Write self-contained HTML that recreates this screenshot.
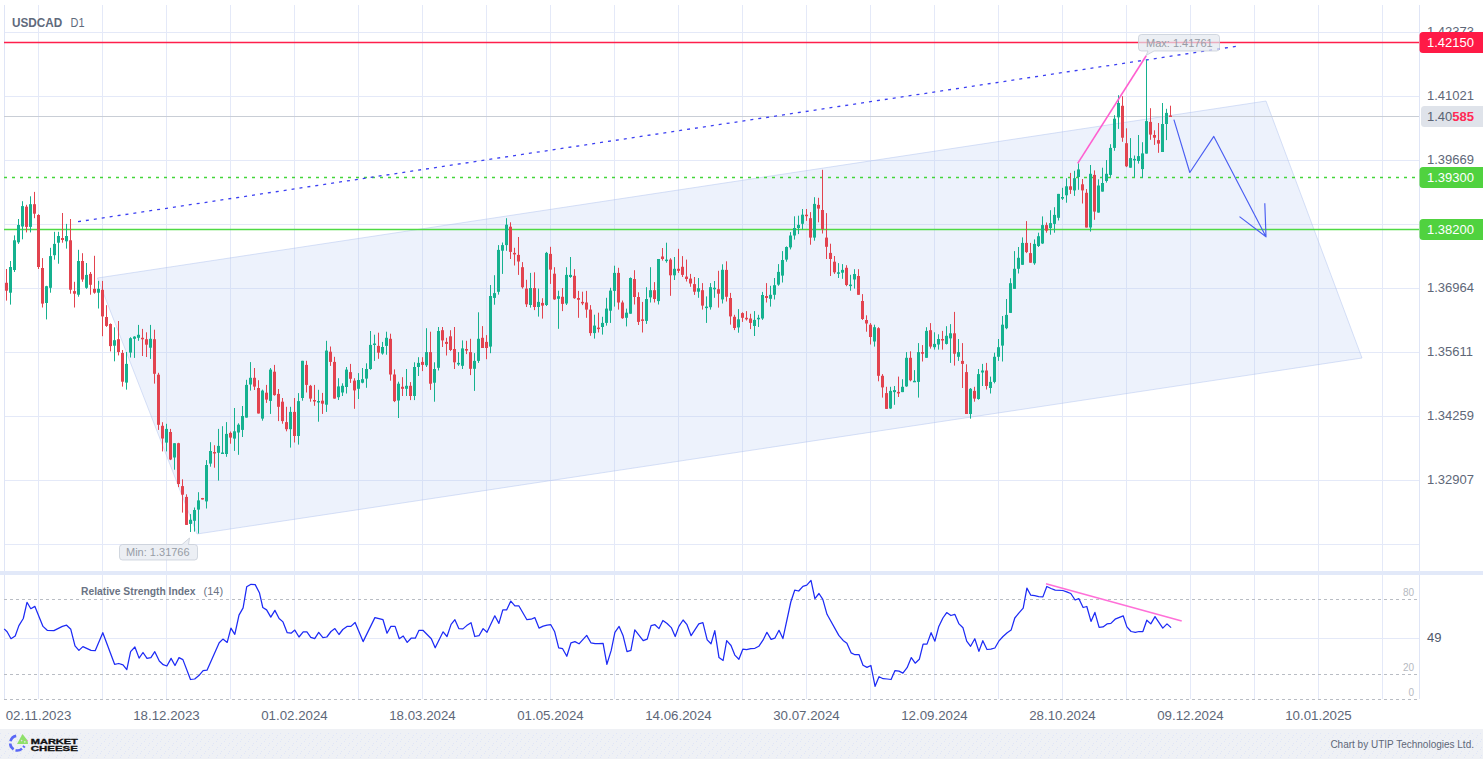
<!DOCTYPE html><html><head><meta charset="utf-8"><style>svg text{font-family:"Liberation Sans",sans-serif}html,body{margin:0;padding:0;background:#fff;width:1483px;height:759px;overflow:hidden}</style></head><body><svg width="1483" height="759" viewBox="0 0 1483 759" style="display:block">
<defs><pattern id="dots" x="0" y="733" width="8" height="8" patternUnits="userSpaceOnUse"><rect x="0" y="0" width="1" height="1" fill="#dde4f7"/><rect x="4" y="4" width="1" height="1" fill="#dde4f7"/><rect x="1" y="6" width="1" height="1" fill="#dde4f7"/><rect x="5" y="2" width="1" height="1" fill="#dde4f7"/></pattern></defs>
<rect x="0" y="729" width="1483" height="30" fill="#eff1f5"/>
<rect x="0" y="733" width="1483" height="26" fill="url(#dots)" opacity="0.9"/>
<path d="M38.5 5V571 M38.5 575V699 M102.5 5V571 M102.5 575V699 M166.5 5V571 M166.5 575V699 M230.5 5V571 M230.5 575V699 M294.5 5V571 M294.5 575V699 M358.5 5V571 M358.5 575V699 M422.5 5V571 M422.5 575V699 M486.5 5V571 M486.5 575V699 M550.5 5V571 M550.5 575V699 M614.5 5V571 M614.5 575V699 M678.5 5V571 M678.5 575V699 M742.5 5V571 M742.5 575V699 M806.5 5V571 M806.5 575V699 M870.5 5V571 M870.5 575V699 M934.5 5V571 M934.5 575V699 M998.5 5V571 M998.5 575V699 M1062.5 5V571 M1062.5 575V699 M1126.5 5V571 M1126.5 575V699 M1190.5 5V571 M1190.5 575V699 M1254.5 5V571 M1254.5 575V699 M1318.5 5V571 M1318.5 575V699 M1382.5 5V571 M1382.5 575V699 M4 32.5H1419 M4 96.5H1419 M4 160.5H1419 M4 224.5H1419 M4 288.5H1419 M4 352.5H1419 M4 416.5H1419 M4 480.5H1419 M4 544.5H1419 M4 638.5H1419" stroke="#e4e9f8" stroke-width="1" fill="none"/>
<path d="M4.5 5V571M4.5 575V699M1419.5 5V571M1419.5 575V699" stroke="#dfe5f6" stroke-width="1" fill="none"/>
<rect x="0" y="571" width="1483" height="4" fill="#e2e9f9"/>
<path d="M4 599.5H1418M4 674.5H1418M4 699.5H1418" stroke="#b9bdc4" stroke-width="1" stroke-dasharray="3 3" fill="none"/>
<polygon points="97.5,278 1266,101 1362,358 197,534" fill="rgba(175,196,240,0.22)" stroke="rgba(170,190,238,0.45)" stroke-width="1"/>
<path d="M4 116.5H1419" stroke="#c9ced6" stroke-width="1"/>
<path d="M4 42.5H1419" stroke="#ff1f4b" stroke-width="1.4"/>
<path d="M4 177.5H1419" stroke="#44d53a" stroke-width="1.3" stroke-dasharray="3 5"/>
<path d="M4 229.5H1419" stroke="#4fd944" stroke-width="1.3"/>
<path d="M78 221.7L1236.2 46.3" stroke="#3b3ff2" stroke-width="1.3" stroke-dasharray="3 5"/>
<g fill="#e2434f"><rect x="6" y="269.0" width="1" height="31.6"/><rect x="5" y="282.8" width="3" height="7.9"/><rect x="26" y="204.8" width="1" height="27.6"/><rect x="25" y="206.7" width="3" height="20.2"/><rect x="34" y="191.9" width="1" height="26.3"/><rect x="33" y="204.2" width="3" height="9.5"/><rect x="38" y="214.2" width="1" height="54.8"/><rect x="37" y="215.0" width="3" height="52.0"/><rect x="42" y="258.1" width="1" height="49.4"/><rect x="41" y="268.0" width="3" height="35.6"/><rect x="62" y="213.0" width="1" height="29.7"/><rect x="61" y="238.0" width="3" height="2.0"/><rect x="70" y="219.0" width="1" height="74.7"/><rect x="69" y="240.3" width="3" height="49.4"/><rect x="74" y="281.8" width="1" height="25.7"/><rect x="73" y="291.1" width="3" height="2.6"/><rect x="82" y="253.2" width="1" height="28.6"/><rect x="81" y="261.0" width="3" height="18.5"/><rect x="90" y="272.0" width="1" height="22.7"/><rect x="89" y="273.9" width="3" height="10.9"/><rect x="94" y="255.8" width="1" height="37.9"/><rect x="93" y="288.8" width="3" height="3.9"/><rect x="102" y="280.9" width="1" height="55.3"/><rect x="101" y="289.8" width="3" height="26.6"/><rect x="106" y="305.2" width="1" height="21.7"/><rect x="105" y="317.0" width="3" height="8.9"/><rect x="110" y="323.4" width="1" height="28.0"/><rect x="109" y="324.0" width="3" height="22.1"/><rect x="118" y="321.0" width="1" height="34.4"/><rect x="117" y="339.2" width="3" height="12.8"/><rect x="122" y="350.0" width="1" height="36.6"/><rect x="121" y="353.0" width="3" height="28.7"/><rect x="142" y="328.9" width="1" height="27.1"/><rect x="141" y="337.8" width="3" height="1.5"/><rect x="146" y="332.3" width="1" height="24.7"/><rect x="145" y="339.2" width="3" height="5.5"/><rect x="154" y="329.7" width="1" height="53.9"/><rect x="153" y="339.2" width="3" height="34.6"/><rect x="158" y="372.8" width="1" height="57.1"/><rect x="157" y="374.7" width="3" height="50.1"/><rect x="162" y="422.2" width="1" height="29.2"/><rect x="161" y="425.8" width="3" height="12.7"/><rect x="170" y="428.9" width="1" height="31.2"/><rect x="169" y="432.0" width="3" height="27.5"/><rect x="178" y="442.8" width="1" height="44.3"/><rect x="177" y="443.2" width="3" height="40.8"/><rect x="182" y="479.3" width="1" height="33.3"/><rect x="181" y="486.1" width="3" height="8.6"/><rect x="186" y="494.3" width="1" height="30.6"/><rect x="185" y="496.9" width="3" height="28.0"/><rect x="202" y="497.9" width="1" height="1.6"/><rect x="201" y="498.0" width="3" height="1.5"/><rect x="214" y="445.2" width="1" height="22.5"/><rect x="213" y="452.0" width="3" height="1.5"/><rect x="230" y="431.5" width="1" height="12.2"/><rect x="229" y="432.9" width="3" height="4.7"/><rect x="254" y="368.0" width="1" height="22.0"/><rect x="253" y="377.8" width="3" height="8.8"/><rect x="258" y="380.2" width="1" height="33.3"/><rect x="257" y="388.0" width="3" height="25.5"/><rect x="266" y="384.9" width="1" height="18.0"/><rect x="265" y="392.7" width="3" height="6.9"/><rect x="274" y="364.9" width="1" height="30.8"/><rect x="273" y="371.7" width="3" height="23.4"/><rect x="278" y="389.0" width="1" height="32.1"/><rect x="277" y="393.9" width="3" height="12.9"/><rect x="282" y="398.0" width="1" height="25.7"/><rect x="281" y="401.7" width="3" height="19.4"/><rect x="286" y="406.8" width="1" height="24.5"/><rect x="285" y="422.1" width="3" height="7.1"/><rect x="294" y="398.0" width="1" height="44.5"/><rect x="293" y="411.9" width="3" height="24.1"/><rect x="306" y="360.8" width="1" height="31.7"/><rect x="305" y="364.9" width="3" height="20.0"/><rect x="310" y="384.9" width="1" height="16.8"/><rect x="309" y="385.8" width="3" height="12.8"/><rect x="314" y="384.9" width="1" height="20.9"/><rect x="313" y="400.0" width="3" height="1.5"/><rect x="322" y="392.9" width="1" height="21.0"/><rect x="321" y="400.7" width="3" height="3.0"/><rect x="330" y="346.5" width="1" height="19.4"/><rect x="329" y="351.7" width="3" height="10.2"/><rect x="334" y="356.8" width="1" height="41.8"/><rect x="333" y="361.9" width="3" height="36.7"/><rect x="350" y="363.9" width="1" height="19.0"/><rect x="349" y="372.1" width="3" height="6.7"/><rect x="354" y="378.2" width="1" height="30.6"/><rect x="353" y="380.6" width="3" height="9.8"/><rect x="378" y="332.7" width="1" height="26.1"/><rect x="377" y="345.9" width="3" height="6.8"/><rect x="390" y="333.7" width="1" height="47.0"/><rect x="389" y="338.8" width="3" height="35.7"/><rect x="394" y="369.4" width="1" height="32.7"/><rect x="393" y="374.5" width="3" height="26.6"/><rect x="402" y="377.2" width="1" height="18.8"/><rect x="401" y="386.8" width="3" height="2.0"/><rect x="410" y="382.1" width="1" height="18.0"/><rect x="409" y="385.8" width="3" height="10.2"/><rect x="422" y="357.2" width="1" height="13.9"/><rect x="421" y="361.9" width="3" height="3.0"/><rect x="430" y="331.7" width="1" height="58.2"/><rect x="429" y="352.1" width="3" height="31.6"/><rect x="442" y="327.0" width="1" height="20.0"/><rect x="441" y="330.2" width="3" height="10.2"/><rect x="446" y="337.8" width="1" height="17.7"/><rect x="445" y="341.9" width="3" height="2.0"/><rect x="450" y="330.2" width="1" height="20.9"/><rect x="449" y="336.3" width="3" height="13.7"/><rect x="454" y="327.0" width="1" height="42.0"/><rect x="453" y="349.0" width="3" height="13.3"/><rect x="466" y="340.8" width="1" height="13.3"/><rect x="465" y="349.0" width="3" height="1.6"/><rect x="470" y="338.8" width="1" height="36.3"/><rect x="469" y="352.1" width="3" height="16.7"/><rect x="482" y="326.1" width="1" height="21.9"/><rect x="481" y="337.8" width="3" height="10.2"/><rect x="486" y="335.1" width="1" height="24.1"/><rect x="485" y="341.9" width="3" height="6.1"/><rect x="510" y="222.3" width="1" height="36.7"/><rect x="509" y="226.7" width="3" height="25.2"/><rect x="514" y="247.8" width="1" height="17.7"/><rect x="513" y="252.9" width="3" height="1.5"/><rect x="518" y="237.0" width="1" height="37.9"/><rect x="517" y="254.9" width="3" height="6.6"/><rect x="522" y="262.1" width="1" height="26.5"/><rect x="521" y="267.2" width="3" height="20.0"/><rect x="526" y="279.8" width="1" height="27.2"/><rect x="525" y="288.6" width="3" height="15.7"/><rect x="534" y="272.3" width="1" height="37.8"/><rect x="533" y="288.0" width="3" height="19.0"/><rect x="542" y="298.2" width="1" height="20.4"/><rect x="541" y="302.9" width="3" height="2.7"/><rect x="550" y="246.8" width="1" height="37.1"/><rect x="549" y="253.9" width="3" height="15.7"/><rect x="554" y="267.2" width="1" height="32.6"/><rect x="553" y="273.7" width="3" height="25.7"/><rect x="562" y="288.0" width="1" height="23.1"/><rect x="561" y="296.8" width="3" height="7.1"/><rect x="574" y="269.2" width="1" height="29.6"/><rect x="573" y="275.8" width="3" height="22.4"/><rect x="578" y="290.9" width="1" height="26.9"/><rect x="577" y="298.0" width="3" height="1.8"/><rect x="582" y="291.7" width="1" height="13.4"/><rect x="581" y="301.9" width="3" height="1.5"/><rect x="586" y="290.9" width="1" height="26.9"/><rect x="585" y="302.5" width="3" height="7.1"/><rect x="590" y="305.1" width="1" height="30.7"/><rect x="589" y="309.6" width="3" height="23.5"/><rect x="598" y="312.7" width="1" height="19.8"/><rect x="597" y="327.6" width="3" height="1.5"/><rect x="618" y="267.8" width="1" height="41.8"/><rect x="617" y="272.9" width="3" height="29.6"/><rect x="622" y="300.5" width="1" height="18.3"/><rect x="621" y="302.5" width="3" height="15.7"/><rect x="634" y="270.2" width="1" height="34.3"/><rect x="633" y="279.0" width="3" height="18.0"/><rect x="638" y="292.3" width="1" height="32.7"/><rect x="637" y="297.0" width="3" height="24.9"/><rect x="642" y="301.9" width="1" height="30.6"/><rect x="641" y="319.4" width="3" height="1.5"/><rect x="654" y="282.1" width="1" height="20.4"/><rect x="653" y="290.2" width="3" height="8.8"/><rect x="662" y="248.0" width="1" height="12.6"/><rect x="661" y="256.5" width="3" height="2.5"/><rect x="670" y="258.2" width="1" height="37.6"/><rect x="669" y="259.6" width="3" height="15.7"/><rect x="678" y="248.8" width="1" height="24.1"/><rect x="677" y="268.8" width="3" height="2.0"/><rect x="682" y="256.1" width="1" height="20.9"/><rect x="681" y="266.8" width="3" height="8.1"/><rect x="686" y="259.6" width="1" height="21.9"/><rect x="685" y="276.6" width="3" height="2.4"/><rect x="690" y="273.9" width="1" height="12.9"/><rect x="689" y="278.6" width="3" height="4.9"/><rect x="694" y="277.0" width="1" height="17.9"/><rect x="693" y="284.1" width="3" height="7.6"/><rect x="702" y="283.1" width="1" height="26.5"/><rect x="701" y="290.2" width="3" height="15.4"/><rect x="718" y="270.8" width="1" height="36.8"/><rect x="717" y="289.2" width="3" height="4.5"/><rect x="726" y="261.3" width="1" height="40.2"/><rect x="725" y="269.9" width="3" height="26.9"/><rect x="730" y="292.9" width="1" height="31.7"/><rect x="729" y="298.0" width="3" height="18.4"/><rect x="734" y="314.8" width="1" height="15.3"/><rect x="733" y="316.8" width="3" height="11.2"/><rect x="742" y="312.3" width="1" height="9.6"/><rect x="741" y="313.1" width="3" height="4.7"/><rect x="746" y="311.1" width="1" height="9.4"/><rect x="745" y="317.8" width="3" height="1.5"/><rect x="750" y="313.8" width="1" height="15.3"/><rect x="749" y="318.5" width="3" height="4.4"/><rect x="766" y="283.1" width="1" height="19.4"/><rect x="765" y="296.0" width="3" height="2.0"/><rect x="806" y="209.0" width="1" height="11.9"/><rect x="805" y="214.7" width="3" height="1.5"/><rect x="810" y="212.1" width="1" height="32.6"/><rect x="809" y="218.2" width="3" height="19.4"/><rect x="818" y="197.8" width="1" height="24.5"/><rect x="817" y="204.9" width="3" height="3.7"/><rect x="822" y="169.8" width="1" height="63.7"/><rect x="821" y="210.0" width="3" height="19.0"/><rect x="826" y="213.1" width="1" height="45.9"/><rect x="825" y="237.6" width="3" height="9.2"/><rect x="830" y="243.7" width="1" height="32.3"/><rect x="829" y="252.9" width="3" height="6.1"/><rect x="834" y="256.0" width="1" height="17.9"/><rect x="833" y="261.7" width="3" height="10.6"/><rect x="846" y="265.2" width="1" height="21.0"/><rect x="845" y="267.8" width="3" height="17.2"/><rect x="858" y="269.2" width="1" height="25.6"/><rect x="857" y="276.0" width="3" height="18.8"/><rect x="862" y="294.1" width="1" height="25.9"/><rect x="861" y="301.0" width="3" height="18.0"/><rect x="866" y="315.3" width="1" height="16.4"/><rect x="865" y="320.0" width="3" height="3.5"/><rect x="870" y="323.1" width="1" height="21.4"/><rect x="869" y="324.7" width="3" height="12.3"/><rect x="878" y="327.2" width="1" height="54.1"/><rect x="877" y="328.2" width="3" height="47.6"/><rect x="882" y="374.1" width="1" height="23.5"/><rect x="881" y="375.8" width="3" height="11.6"/><rect x="886" y="386.8" width="1" height="22.1"/><rect x="885" y="393.1" width="3" height="15.8"/><rect x="898" y="376.6" width="1" height="20.4"/><rect x="897" y="391.9" width="3" height="1.5"/><rect x="910" y="351.3" width="1" height="30.0"/><rect x="909" y="357.8" width="3" height="22.5"/><rect x="922" y="345.1" width="1" height="16.4"/><rect x="921" y="352.1" width="3" height="1.6"/><rect x="930" y="323.1" width="1" height="25.5"/><rect x="929" y="330.2" width="3" height="16.4"/><rect x="942" y="330.9" width="1" height="18.7"/><rect x="941" y="339.0" width="3" height="1.5"/><rect x="954" y="311.9" width="1" height="53.7"/><rect x="953" y="333.3" width="3" height="20.4"/><rect x="962" y="343.1" width="1" height="44.9"/><rect x="961" y="360.9" width="3" height="3.0"/><rect x="966" y="364.3" width="1" height="49.7"/><rect x="965" y="372.1" width="3" height="41.9"/><rect x="974" y="386.8" width="1" height="14.9"/><rect x="973" y="390.9" width="3" height="7.7"/><rect x="986" y="362.9" width="1" height="26.6"/><rect x="985" y="370.5" width="3" height="15.5"/><rect x="1026" y="221.1" width="1" height="32.0"/><rect x="1025" y="242.9" width="3" height="9.2"/><rect x="1030" y="242.9" width="1" height="19.8"/><rect x="1029" y="253.1" width="3" height="9.6"/><rect x="1046" y="222.5" width="1" height="10.2"/><rect x="1045" y="225.1" width="3" height="5.6"/><rect x="1070" y="172.9" width="1" height="21.0"/><rect x="1069" y="186.3" width="3" height="3.5"/><rect x="1082" y="179.0" width="1" height="24.5"/><rect x="1081" y="184.3" width="3" height="6.1"/><rect x="1086" y="189.1" width="1" height="38.4"/><rect x="1085" y="192.8" width="3" height="34.7"/><rect x="1094" y="170.4" width="1" height="49.4"/><rect x="1093" y="174.9" width="3" height="36.7"/><rect x="1122" y="96.2" width="1" height="45.6"/><rect x="1121" y="105.8" width="3" height="31.9"/><rect x="1126" y="128.3" width="1" height="38.8"/><rect x="1125" y="143.2" width="3" height="23.1"/><rect x="1150" y="108.2" width="1" height="31.6"/><rect x="1149" y="121.9" width="3" height="12.7"/><rect x="1154" y="130.3" width="1" height="14.6"/><rect x="1153" y="135.0" width="3" height="2.7"/><rect x="1158" y="123.0" width="1" height="29.8"/><rect x="1157" y="140.1" width="3" height="3.5"/><rect x="1170" y="105.7" width="1" height="11.3"/><rect x="1169" y="115.5" width="3" height="1.5"/></g><g fill="#15b18f"><rect x="10" y="261.0" width="1" height="43.6"/><rect x="9" y="267.0" width="3" height="25.7"/><rect x="14" y="235.4" width="1" height="36.6"/><rect x="13" y="240.3" width="3" height="29.7"/><rect x="18" y="219.0" width="1" height="24.9"/><rect x="17" y="225.0" width="3" height="17.3"/><rect x="22" y="201.2" width="1" height="38.1"/><rect x="21" y="206.1" width="3" height="20.4"/><rect x="30" y="196.3" width="1" height="36.1"/><rect x="29" y="204.2" width="3" height="22.7"/><rect x="46" y="285.8" width="1" height="33.6"/><rect x="45" y="286.2" width="3" height="16.8"/><rect x="50" y="247.8" width="1" height="44.9"/><rect x="49" y="256.1" width="3" height="31.7"/><rect x="54" y="231.8" width="1" height="27.9"/><rect x="53" y="243.9" width="3" height="11.3"/><rect x="58" y="231.8" width="1" height="31.9"/><rect x="57" y="236.0" width="3" height="6.7"/><rect x="66" y="223.9" width="1" height="24.7"/><rect x="65" y="236.0" width="3" height="5.3"/><rect x="78" y="249.8" width="1" height="46.9"/><rect x="77" y="261.0" width="3" height="33.7"/><rect x="86" y="263.0" width="1" height="25.8"/><rect x="85" y="274.9" width="3" height="12.9"/><rect x="98" y="280.9" width="1" height="27.6"/><rect x="97" y="288.8" width="3" height="3.9"/><rect x="114" y="327.3" width="1" height="34.0"/><rect x="113" y="340.2" width="3" height="5.5"/><rect x="126" y="352.0" width="1" height="37.6"/><rect x="125" y="363.9" width="3" height="18.7"/><rect x="130" y="337.2" width="1" height="20.3"/><rect x="129" y="338.2" width="3" height="14.4"/><rect x="134" y="336.2" width="1" height="21.7"/><rect x="133" y="336.6" width="3" height="2.2"/><rect x="138" y="324.9" width="1" height="15.9"/><rect x="137" y="334.8" width="3" height="3.0"/><rect x="150" y="324.9" width="1" height="34.0"/><rect x="149" y="338.8" width="3" height="8.9"/><rect x="166" y="423.8" width="1" height="27.6"/><rect x="165" y="428.9" width="3" height="13.7"/><rect x="174" y="443.2" width="1" height="26.5"/><rect x="173" y="443.2" width="3" height="14.3"/><rect x="190" y="514.1" width="1" height="17.9"/><rect x="189" y="519.8" width="3" height="4.1"/><rect x="194" y="507.5" width="1" height="24.1"/><rect x="193" y="510.0" width="3" height="10.8"/><rect x="198" y="492.2" width="1" height="41.3"/><rect x="197" y="500.4" width="3" height="9.2"/><rect x="206" y="460.1" width="1" height="48.4"/><rect x="205" y="465.0" width="3" height="36.4"/><rect x="210" y="442.2" width="1" height="24.5"/><rect x="209" y="451.0" width="3" height="12.6"/><rect x="218" y="428.9" width="1" height="51.7"/><rect x="217" y="445.9" width="3" height="6.9"/><rect x="222" y="426.2" width="1" height="27.8"/><rect x="221" y="452.5" width="3" height="1.5"/><rect x="226" y="422.1" width="1" height="34.7"/><rect x="225" y="433.9" width="3" height="20.1"/><rect x="234" y="408.0" width="1" height="42.9"/><rect x="233" y="431.3" width="3" height="7.3"/><rect x="238" y="423.3" width="1" height="31.5"/><rect x="237" y="424.7" width="3" height="7.8"/><rect x="242" y="406.0" width="1" height="31.0"/><rect x="241" y="416.0" width="3" height="13.9"/><rect x="246" y="379.8" width="1" height="37.8"/><rect x="245" y="384.9" width="3" height="32.7"/><rect x="250" y="362.1" width="1" height="28.5"/><rect x="249" y="377.8" width="3" height="6.7"/><rect x="262" y="389.6" width="1" height="31.1"/><rect x="261" y="390.6" width="3" height="28.0"/><rect x="270" y="368.0" width="1" height="45.9"/><rect x="269" y="369.6" width="3" height="31.3"/><rect x="290" y="406.8" width="1" height="40.8"/><rect x="289" y="411.9" width="3" height="17.3"/><rect x="298" y="393.1" width="1" height="51.5"/><rect x="297" y="401.1" width="3" height="34.9"/><rect x="302" y="360.8" width="1" height="39.9"/><rect x="301" y="360.8" width="3" height="37.2"/><rect x="318" y="389.8" width="1" height="31.9"/><rect x="317" y="401.0" width="3" height="1.5"/><rect x="326" y="340.8" width="1" height="71.1"/><rect x="325" y="350.6" width="3" height="54.1"/><rect x="338" y="378.2" width="1" height="21.8"/><rect x="337" y="386.4" width="3" height="10.8"/><rect x="342" y="383.3" width="1" height="12.7"/><rect x="341" y="385.8" width="3" height="6.7"/><rect x="346" y="367.0" width="1" height="26.5"/><rect x="345" y="369.6" width="3" height="17.4"/><rect x="358" y="373.1" width="1" height="25.9"/><rect x="357" y="380.0" width="3" height="8.8"/><rect x="362" y="368.0" width="1" height="15.3"/><rect x="361" y="379.2" width="3" height="3.5"/><rect x="366" y="363.3" width="1" height="24.5"/><rect x="365" y="369.0" width="3" height="9.6"/><rect x="370" y="331.0" width="1" height="38.8"/><rect x="369" y="344.9" width="3" height="24.1"/><rect x="374" y="334.7" width="1" height="26.2"/><rect x="373" y="343.5" width="3" height="1.5"/><rect x="382" y="341.9" width="1" height="12.8"/><rect x="381" y="347.0" width="3" height="6.5"/><rect x="386" y="331.7" width="1" height="23.0"/><rect x="385" y="337.8" width="3" height="8.1"/><rect x="398" y="381.7" width="1" height="36.3"/><rect x="397" y="383.7" width="3" height="16.8"/><rect x="406" y="369.0" width="1" height="27.0"/><rect x="405" y="385.8" width="3" height="3.0"/><rect x="414" y="362.3" width="1" height="37.8"/><rect x="413" y="367.0" width="3" height="29.0"/><rect x="418" y="357.2" width="1" height="18.8"/><rect x="417" y="362.9" width="3" height="4.1"/><rect x="426" y="328.2" width="1" height="38.8"/><rect x="425" y="352.1" width="3" height="13.2"/><rect x="434" y="362.3" width="1" height="39.4"/><rect x="433" y="369.0" width="3" height="13.7"/><rect x="438" y="327.0" width="1" height="43.5"/><rect x="437" y="331.0" width="3" height="36.8"/><rect x="458" y="352.1" width="1" height="13.7"/><rect x="457" y="362.9" width="3" height="1.5"/><rect x="462" y="340.4" width="1" height="28.6"/><rect x="461" y="348.4" width="3" height="17.4"/><rect x="474" y="353.1" width="1" height="37.8"/><rect x="473" y="360.9" width="3" height="7.9"/><rect x="478" y="312.3" width="1" height="50.6"/><rect x="477" y="338.8" width="3" height="22.1"/><rect x="490" y="285.0" width="1" height="68.2"/><rect x="489" y="296.0" width="3" height="50.6"/><rect x="494" y="275.2" width="1" height="29.5"/><rect x="493" y="293.1" width="3" height="4.8"/><rect x="498" y="245.1" width="1" height="49.5"/><rect x="497" y="249.9" width="3" height="41.9"/><rect x="502" y="242.5" width="1" height="31.4"/><rect x="501" y="245.1" width="3" height="5.6"/><rect x="506" y="218.2" width="1" height="32.6"/><rect x="505" y="224.7" width="3" height="20.4"/><rect x="530" y="272.9" width="1" height="34.7"/><rect x="529" y="288.0" width="3" height="17.0"/><rect x="538" y="288.6" width="1" height="28.0"/><rect x="537" y="301.9" width="3" height="5.1"/><rect x="546" y="251.9" width="1" height="54.1"/><rect x="545" y="252.9" width="3" height="52.1"/><rect x="558" y="290.7" width="1" height="38.1"/><rect x="557" y="296.2" width="3" height="2.6"/><rect x="566" y="267.2" width="1" height="37.8"/><rect x="565" y="274.9" width="3" height="28.6"/><rect x="570" y="257.0" width="1" height="20.8"/><rect x="569" y="274.9" width="3" height="2.1"/><rect x="594" y="314.7" width="1" height="23.9"/><rect x="593" y="325.6" width="3" height="7.5"/><rect x="602" y="316.8" width="1" height="17.8"/><rect x="601" y="322.9" width="3" height="4.1"/><rect x="606" y="297.8" width="1" height="27.8"/><rect x="605" y="308.6" width="3" height="14.3"/><rect x="610" y="287.8" width="1" height="35.1"/><rect x="609" y="290.6" width="3" height="20.1"/><rect x="614" y="265.7" width="1" height="40.9"/><rect x="613" y="272.9" width="3" height="18.0"/><rect x="626" y="308.6" width="1" height="17.8"/><rect x="625" y="312.7" width="3" height="5.1"/><rect x="630" y="277.4" width="1" height="36.3"/><rect x="629" y="278.0" width="3" height="35.7"/><rect x="646" y="287.2" width="1" height="36.7"/><rect x="645" y="299.0" width="3" height="21.9"/><rect x="650" y="267.2" width="1" height="35.3"/><rect x="649" y="290.2" width="3" height="7.2"/><rect x="658" y="259.0" width="1" height="45.5"/><rect x="657" y="259.0" width="3" height="42.1"/><rect x="666" y="242.7" width="1" height="20.0"/><rect x="665" y="259.6" width="3" height="1.5"/><rect x="674" y="257.0" width="1" height="23.0"/><rect x="673" y="268.8" width="3" height="6.5"/><rect x="698" y="278.0" width="1" height="19.8"/><rect x="697" y="288.2" width="3" height="3.5"/><rect x="706" y="296.4" width="1" height="26.5"/><rect x="705" y="306.6" width="3" height="1.5"/><rect x="710" y="283.1" width="1" height="26.5"/><rect x="709" y="287.2" width="3" height="20.0"/><rect x="714" y="281.0" width="1" height="16.8"/><rect x="713" y="287.8" width="3" height="1.5"/><rect x="722" y="264.3" width="1" height="39.2"/><rect x="721" y="269.8" width="3" height="29.6"/><rect x="738" y="309.1" width="1" height="23.6"/><rect x="737" y="319.3" width="3" height="8.1"/><rect x="754" y="311.1" width="1" height="24.9"/><rect x="753" y="319.9" width="3" height="6.1"/><rect x="758" y="314.8" width="1" height="12.2"/><rect x="757" y="317.8" width="3" height="1.5"/><rect x="762" y="291.9" width="1" height="28.0"/><rect x="761" y="295.0" width="3" height="23.5"/><rect x="770" y="285.8" width="1" height="20.8"/><rect x="769" y="294.8" width="3" height="4.0"/><rect x="774" y="278.0" width="1" height="21.5"/><rect x="773" y="285.2" width="3" height="9.6"/><rect x="778" y="264.1" width="1" height="21.7"/><rect x="777" y="271.9" width="3" height="12.7"/><rect x="782" y="251.1" width="1" height="31.4"/><rect x="781" y="260.0" width="3" height="15.6"/><rect x="786" y="246.4" width="1" height="15.3"/><rect x="785" y="247.0" width="3" height="12.6"/><rect x="790" y="232.1" width="1" height="17.3"/><rect x="789" y="235.5" width="3" height="11.9"/><rect x="794" y="216.3" width="1" height="23.3"/><rect x="793" y="228.0" width="3" height="7.5"/><rect x="798" y="215.7" width="1" height="18.4"/><rect x="797" y="224.9" width="3" height="3.1"/><rect x="802" y="209.0" width="1" height="20.4"/><rect x="801" y="214.7" width="3" height="9.1"/><rect x="814" y="197.2" width="1" height="43.5"/><rect x="813" y="203.9" width="3" height="33.7"/><rect x="838" y="263.1" width="1" height="14.9"/><rect x="837" y="272.3" width="3" height="1.5"/><rect x="842" y="264.1" width="1" height="14.7"/><rect x="841" y="269.9" width="3" height="2.8"/><rect x="850" y="274.8" width="1" height="15.9"/><rect x="849" y="284.6" width="3" height="1.5"/><rect x="854" y="269.2" width="1" height="19.4"/><rect x="853" y="274.0" width="3" height="5.5"/><rect x="874" y="324.7" width="1" height="21.9"/><rect x="873" y="327.2" width="3" height="14.3"/><rect x="890" y="386.8" width="1" height="22.1"/><rect x="889" y="390.9" width="3" height="17.6"/><rect x="894" y="386.0" width="1" height="18.8"/><rect x="893" y="390.1" width="3" height="2.0"/><rect x="902" y="379.2" width="1" height="12.9"/><rect x="901" y="386.8" width="3" height="5.3"/><rect x="906" y="352.1" width="1" height="34.7"/><rect x="905" y="357.8" width="3" height="28.6"/><rect x="914" y="370.1" width="1" height="11.8"/><rect x="913" y="380.8" width="3" height="1.5"/><rect x="918" y="343.1" width="1" height="54.5"/><rect x="917" y="352.1" width="3" height="29.8"/><rect x="926" y="327.2" width="1" height="30.6"/><rect x="925" y="330.9" width="3" height="26.9"/><rect x="934" y="332.3" width="1" height="17.3"/><rect x="933" y="343.9" width="3" height="3.3"/><rect x="938" y="334.3" width="1" height="15.3"/><rect x="937" y="339.0" width="3" height="5.5"/><rect x="946" y="326.2" width="1" height="18.3"/><rect x="945" y="335.8" width="3" height="8.1"/><rect x="950" y="324.1" width="1" height="38.8"/><rect x="949" y="333.3" width="3" height="5.1"/><rect x="958" y="339.0" width="1" height="21.9"/><rect x="957" y="352.1" width="3" height="4.7"/><rect x="970" y="388.0" width="1" height="30.7"/><rect x="969" y="388.8" width="3" height="25.2"/><rect x="978" y="369.0" width="1" height="30.7"/><rect x="977" y="374.1" width="3" height="24.9"/><rect x="982" y="363.9" width="1" height="22.1"/><rect x="981" y="370.5" width="3" height="2.0"/><rect x="990" y="376.6" width="1" height="16.9"/><rect x="989" y="381.9" width="3" height="6.1"/><rect x="994" y="352.7" width="1" height="30.6"/><rect x="993" y="356.8" width="3" height="25.1"/><rect x="998" y="339.0" width="1" height="21.9"/><rect x="997" y="347.2" width="3" height="9.6"/><rect x="1002" y="316.0" width="1" height="45.5"/><rect x="1001" y="324.7" width="3" height="20.9"/><rect x="1006" y="299.0" width="1" height="30.2"/><rect x="1005" y="314.9" width="3" height="13.3"/><rect x="1010" y="278.2" width="1" height="34.7"/><rect x="1009" y="283.2" width="3" height="29.7"/><rect x="1014" y="251.1" width="1" height="37.8"/><rect x="1013" y="268.8" width="3" height="20.1"/><rect x="1018" y="247.0" width="1" height="26.5"/><rect x="1017" y="257.8" width="3" height="11.0"/><rect x="1022" y="237.4" width="1" height="27.4"/><rect x="1021" y="242.9" width="3" height="21.9"/><rect x="1034" y="239.4" width="1" height="25.4"/><rect x="1033" y="243.9" width="3" height="19.4"/><rect x="1038" y="232.7" width="1" height="14.3"/><rect x="1037" y="236.2" width="3" height="9.8"/><rect x="1042" y="216.4" width="1" height="27.5"/><rect x="1041" y="225.1" width="3" height="18.4"/><rect x="1050" y="210.2" width="1" height="24.5"/><rect x="1049" y="223.1" width="3" height="4.9"/><rect x="1054" y="207.2" width="1" height="25.5"/><rect x="1053" y="214.9" width="3" height="9.0"/><rect x="1058" y="193.9" width="1" height="26.6"/><rect x="1057" y="193.9" width="3" height="23.9"/><rect x="1062" y="187.8" width="1" height="12.2"/><rect x="1061" y="197.0" width="3" height="1.6"/><rect x="1066" y="178.2" width="1" height="24.5"/><rect x="1065" y="186.3" width="3" height="9.0"/><rect x="1074" y="170.8" width="1" height="25.1"/><rect x="1073" y="178.2" width="3" height="12.2"/><rect x="1078" y="163.3" width="1" height="26.5"/><rect x="1077" y="169.4" width="3" height="7.6"/><rect x="1090" y="165.0" width="1" height="66.6"/><rect x="1089" y="173.8" width="3" height="53.7"/><rect x="1098" y="179.3" width="1" height="33.3"/><rect x="1097" y="185.5" width="3" height="27.1"/><rect x="1102" y="167.7" width="1" height="23.9"/><rect x="1101" y="183.0" width="3" height="8.6"/><rect x="1106" y="160.1" width="1" height="22.5"/><rect x="1105" y="173.8" width="3" height="7.2"/><rect x="1110" y="144.2" width="1" height="32.7"/><rect x="1109" y="147.9" width="3" height="27.0"/><rect x="1114" y="115.2" width="1" height="35.6"/><rect x="1113" y="118.7" width="3" height="29.2"/><rect x="1118" y="95.2" width="1" height="33.7"/><rect x="1117" y="103.0" width="3" height="14.3"/><rect x="1130" y="138.1" width="1" height="29.6"/><rect x="1129" y="158.1" width="3" height="9.6"/><rect x="1134" y="155.5" width="1" height="21.8"/><rect x="1133" y="158.9" width="3" height="1.5"/><rect x="1138" y="135.0" width="1" height="28.6"/><rect x="1137" y="156.1" width="3" height="4.9"/><rect x="1142" y="142.2" width="1" height="35.7"/><rect x="1141" y="153.4" width="3" height="15.7"/><rect x="1146" y="59.8" width="1" height="93.8"/><rect x="1145" y="121.1" width="3" height="32.5"/><rect x="1162" y="103.0" width="1" height="49.0"/><rect x="1161" y="124.0" width="3" height="28.0"/><rect x="1166" y="108.8" width="1" height="31.3"/><rect x="1165" y="112.9" width="3" height="11.1"/></g>
<path d="M1077.7 163.4L1146.2 55.8" stroke="#ff5fd0" stroke-width="1.6"/>
<path d="M1173.9 119.6L1189.8 172.5L1213.8 136.4L1266 236.8M1239.5 216.6L1266 236.8L1264.8 203.2" stroke="#4a5ef2" stroke-width="1.15" fill="none" stroke-linejoin="round"/>
<polyline points="4.2,628.9 7.1,631.8 11.0,638.7 15.2,636.0 18.9,625.6 23.3,618.5 27.0,602.3 30.8,608.7 34.9,606.4 43.0,626.4 47.2,630.3 53.9,630.6 62.4,626.4 66.6,625.2 70.8,629.3 75.0,645.8 78.9,650.4 82.9,646.6 91.0,650.4 95.2,650.7 102.8,632.7 114.6,664.3 118.8,663.5 123.0,664.9 126.8,669.7 130.6,651.7 134.9,647.0 139.1,658.1 143.0,652.5 147.0,658.4 150.9,657.6 154.8,651.7 159.3,661.0 163.2,664.7 166.9,666.0 171.1,658.4 175.0,665.5 179.0,657.6 182.9,659.6 190.5,679.5 194.7,679.0 198.9,675.6 203.1,670.6 207.0,670.2 219.2,642.8 222.9,639.1 227.2,642.4 230.9,628.1 234.8,634.3 239.0,615.1 243.1,607.9 246.7,586.8 251.0,584.3 255.2,584.6 259.4,592.7 262.8,607.5 266.6,609.9 270.8,617.1 274.9,610.4 279.1,618.5 283.0,621.9 287.2,632.7 291.1,633.2 294.8,630.1 299.0,637.0 303.2,631.8 306.9,631.8 310.8,637.4 314.7,638.6 318.7,632.3 322.9,637.7 326.8,637.0 331.0,631.5 334.9,628.6 339.0,634.5 342.8,629.5 347.0,626.4 350.9,626.4 355.1,622.5 363.1,641.6 374.9,617.6 383.0,619.7 387.0,633.2 390.9,626.4 395.1,626.4 399.3,638.7 403.2,636.0 407.2,642.4 411.1,638.2 415.3,638.2 419.0,630.3 422.9,630.3 431.3,638.7 435.2,647.8 443.1,631.8 447.0,636.5 451.1,624.4 454.9,619.7 458.8,628.6 462.9,628.9 466.7,625.6 471.0,622.7 474.8,636.5 479.0,635.7 483.1,628.6 487.0,632.3 494.8,615.8 498.9,623.4 502.8,609.9 506.6,609.9 510.8,601.1 514.9,605.8 518.8,605.8 526.9,619.7 531.1,619.2 534.8,617.6 539.0,628.1 543.2,626.1 547.1,625.1 550.8,624.7 554.7,631.8 558.7,647.8 562.6,648.7 566.8,656.3 571.0,642.8 574.9,641.6 579.0,643.8 586.7,635.4 590.9,642.8 595.1,643.6 598.8,643.6 603.1,643.3 606.9,664.3 611.2,650.4 614.9,632.3 619.1,626.4 623.0,635.4 627.0,651.7 630.9,650.4 634.8,629.8 643.2,640.7 647.2,639.1 651.1,625.6 655.0,624.7 659.0,628.6 662.9,620.5 667.1,623.5 671.3,627.6 675.2,636.5 678.9,626.4 683.1,620.0 687.0,624.7 691.1,635.7 698.8,623.9 702.9,622.7 707.2,639.9 711.0,643.8 714.8,630.6 719.0,657.6 723.1,660.5 726.7,640.7 731.0,645.5 734.8,655.1 738.9,659.3 742.8,649.2 746.6,649.7 750.8,648.7 754.9,648.3 758.8,646.3 763.0,640.2 766.9,632.3 771.1,639.4 774.8,638.2 779.0,630.3 782.9,638.6 790.8,602.0 794.7,590.2 798.7,591.0 802.9,586.3 806.8,585.1 811.0,580.4 814.9,598.6 819.0,593.5 822.8,599.4 827.0,614.3 838.8,635.4 843.1,640.4 846.9,643.3 851.2,652.9 854.9,654.7 859.1,654.7 863.0,665.2 867.0,667.4 870.9,665.5 875.1,686.3 879.0,676.7 883.2,678.7 887.2,679.0 891.1,679.5 895.0,670.6 899.0,671.1 902.9,673.1 907.1,667.7 911.3,657.6 915.2,663.2 919.3,659.3 923.1,644.1 927.0,644.1 931.1,632.7 934.9,641.2 938.8,626.4 942.9,618.0 946.7,612.6 950.9,615.5 954.8,614.3 959.0,623.9 963.0,627.8 966.7,641.1 970.6,646.3 974.8,638.7 978.9,651.4 982.8,640.7 987.0,649.5 990.8,649.2 994.9,648.0 998.8,641.2 1003.0,636.5 1007.2,632.7 1011.1,630.1 1014.8,618.0 1019.0,612.9 1023.2,608.2 1026.9,588.1 1030.8,595.2 1034.7,595.7 1038.7,596.6 1042.9,596.9 1046.8,586.5 1051.0,588.5 1055.2,590.2 1062.8,590.5 1066.7,591.9 1070.8,593.5 1075.1,600.0 1078.8,598.6 1083.1,607.5 1086.8,606.5 1091.0,621.4 1094.9,612.4 1099.1,627.3 1103.0,626.9 1107.0,623.9 1110.9,623.4 1115.1,619.2 1123.2,615.8 1126.9,626.9 1131.1,631.5 1135.3,632.3 1139.0,631.5 1142.9,631.5 1146.8,620.2 1150.8,623.9 1155.0,616.6 1162.8,628.1 1167.0,623.9 1171.1,627.6" stroke="#1d2bf5" stroke-width="1.25" fill="none" stroke-linejoin="round"/>
<path d="M1046 583.8L1181.7 621" stroke="#ff70d8" stroke-width="1.6"/>
<text x="12" y="27" font-size="12.2" font-weight="bold" fill="#5f6a7c" textLength="50.3" lengthAdjust="spacingAndGlyphs">USDCAD</text>
<text x="70.5" y="27" font-size="12.2" fill="#5f6a7c" textLength="14" lengthAdjust="spacingAndGlyphs">D1</text>
<text x="1427" y="35.8" font-size="13" fill="#5e6778">1.42373</text>
<text x="1427" y="99.8" font-size="13" fill="#5e6778">1.41021</text>
<text x="1427" y="163.8" font-size="13" fill="#5e6778">1.39669</text>
<text x="1427" y="227.8" font-size="13" fill="#5e6778">1.38316</text>
<text x="1427" y="291.8" font-size="13" fill="#5e6778">1.36964</text>
<text x="1427" y="355.8" font-size="13" fill="#5e6778">1.35611</text>
<text x="1427" y="419.8" font-size="13" fill="#5e6778">1.34259</text>
<text x="1427" y="483.8" font-size="13" fill="#5e6778">1.32907</text>
<rect x="1419.5" y="32" width="80" height="21" rx="3.5" fill="#ff1a46"/><text x="1427" y="47.1" font-size="13" fill="#fff">1.42150</text>
<rect x="1421" y="106" width="80" height="21" rx="3.5" fill="#dfe3ea"/>
<text x="1427" y="121" font-size="13" fill="#5a6374">1.40<tspan fill="#ff2a55" font-weight="bold">585</tspan></text>
<rect x="1419.5" y="167" width="80" height="21" rx="3.5" fill="#50d23f"/><text x="1427" y="182.1" font-size="13" fill="#fff">1.39300</text>
<rect x="1419.5" y="219" width="80" height="21" rx="3.5" fill="#50d23f"/><text x="1427" y="234.1" font-size="13" fill="#fff">1.38200</text>
<path d="M1141.5 34.5H1216.5Q1219.5 34.5 1219.5 37.5V48Q1219.5 51 1216.5 51H1154L1146 55.5L1148 51H1141.5Q1138.5 51 1138.5 48V37.5Q1138.5 34.5 1141.5 34.5Z" fill="rgba(228,232,239,0.7)" stroke="rgba(200,206,216,0.8)" stroke-width="1"/>
<text x="1146" y="46.5" font-size="11" fill="#979da6">Max: 1.41761</text>
<path d="M122.5 544.5H182L189.5 538L188.5 544.5H194.5Q197.5 544.5 197.5 547.5V557Q197.5 560 194.5 560H122.5Q119.5 560 119.5 557V547.5Q119.5 544.5 122.5 544.5Z" fill="rgba(228,232,239,0.7)" stroke="rgba(200,206,216,0.8)" stroke-width="1"/>
<text x="126" y="556" font-size="11" fill="#979da6">Min: 1.31766</text>
<text x="81" y="595" font-size="11" font-weight="bold" fill="#6a7384" textLength="114.5" lengthAdjust="spacingAndGlyphs">Relative Strength Index</text>
<text x="203.5" y="595" font-size="11" fill="#6a7384">(14)</text>
<text x="1414" y="596.0" font-size="10" fill="#b6bac1" text-anchor="end">80</text>
<text x="1414" y="671.0" font-size="10" fill="#b6bac1" text-anchor="end">20</text>
<text x="1414" y="696.0" font-size="10" fill="#b6bac1" text-anchor="end">0</text>
<text x="1427" y="642" font-size="13" fill="#4f5869">49</text>
<text x="38.5" y="720" font-size="13.3" fill="#5e6778" text-anchor="middle">02.11.2023</text>
<text x="166.5" y="720" font-size="13.3" fill="#5e6778" text-anchor="middle">18.12.2023</text>
<text x="294.5" y="720" font-size="13.3" fill="#5e6778" text-anchor="middle">01.02.2024</text>
<text x="422.5" y="720" font-size="13.3" fill="#5e6778" text-anchor="middle">18.03.2024</text>
<text x="550.5" y="720" font-size="13.3" fill="#5e6778" text-anchor="middle">01.05.2024</text>
<text x="678.5" y="720" font-size="13.3" fill="#5e6778" text-anchor="middle">14.06.2024</text>
<text x="806.5" y="720" font-size="13.3" fill="#5e6778" text-anchor="middle">30.07.2024</text>
<text x="934.5" y="720" font-size="13.3" fill="#5e6778" text-anchor="middle">12.09.2024</text>
<text x="1062.5" y="720" font-size="13.3" fill="#5e6778" text-anchor="middle">28.10.2024</text>
<text x="1190.5" y="720" font-size="13.3" fill="#5e6778" text-anchor="middle">09.12.2024</text>
<text x="1318.5" y="720" font-size="13.3" fill="#5e6778" text-anchor="middle">10.01.2025</text>
<text x="1474" y="748" font-size="10" fill="#5e6778" text-anchor="end">Chart by UTIP Technologies Ltd.</text>
<g><path d="M16.2 735.9A7.2 7.2 0 0 0 10.5 741.2" stroke="#5a68f6" stroke-width="2.6" fill="none"/><path d="M10.2 743.5A7.2 7.2 0 0 0 13.6 749.3" stroke="#5a68f6" stroke-width="2.6" fill="none"/><path d="M15.5 750.2A7.2 7.2 0 0 0 22 748.6" stroke="#5a68f6" stroke-width="2.6" fill="none"/><path d="M23.3 747.4A7.2 7.2 0 0 0 24.4 746" stroke="#5a68f6" stroke-width="2.6" fill="none"/><path d="M22.5 734L27.6 740.5L28 744H17Z" fill="#8fe06a"/><circle cx="21.6" cy="740.6" r="0.8" fill="#e9d0f0"/><circle cx="24.8" cy="741.8" r="0.9" fill="#d8ecd0"/><circle cx="27.3" cy="740.4" r="0.6" fill="#ee88e0"/><text x="30.8" y="743.6" font-size="8" font-weight="bold" fill="#111" stroke="#111" stroke-width="0.35" textLength="47" lengthAdjust="spacingAndGlyphs">MARKET</text><text x="30.8" y="750.7" font-size="8" font-weight="bold" fill="#111" stroke="#111" stroke-width="0.35" textLength="47" lengthAdjust="spacingAndGlyphs">CHEESE</text></g>
</svg></body></html>
